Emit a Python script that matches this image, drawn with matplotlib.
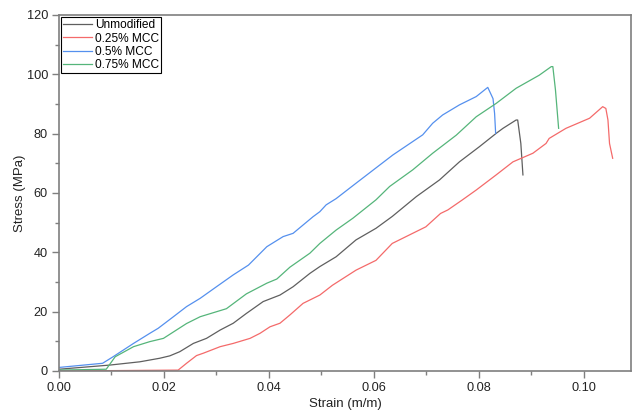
import matplotlib.pyplot as plt
from matplotlib.ticker import MultipleLocator

plt.rcParams['font.family'] = ['Liberation Sans', 'DejaVu Sans']

# Unmodified
strain_unmod = [0.0, 0.0097, 0.0154, 0.0192, 0.0211, 0.0230, 0.0256, 0.0281, 0.0307, 0.0332,
                0.0357, 0.0389, 0.0421, 0.0446, 0.0478, 0.0497, 0.0528, 0.0566, 0.0604, 0.0635,
                0.0670, 0.0681, 0.0725, 0.0763, 0.0801, 0.0833, 0.0846, 0.0871, 0.0874, 0.0880, 0.0884]
stress_unmod = [0.6, 2.0, 3.1, 4.3, 5.1, 6.5, 9.3, 11.0, 13.8, 16.1,
                19.4, 23.4, 25.6, 28.4, 32.9, 35.2, 38.5, 44.2, 48.1, 52.1,
                57.2, 58.8, 64.4, 70.5, 75.6, 80.1, 81.8, 84.6, 84.6, 76.7, 66.1]

# 0.25% MCC
strain_025 = [0.0, 0.0227, 0.0243, 0.0262, 0.0275, 0.0307, 0.0332, 0.0364, 0.0383, 0.0402, 0.0421,
              0.0440, 0.0465, 0.0497, 0.0521, 0.0566, 0.0604, 0.0635, 0.0699, 0.0727, 0.0741,
              0.0768, 0.0795, 0.0833, 0.0865, 0.0903, 0.0928, 0.0934, 0.0966, 0.1011, 0.1036,
              0.1042, 0.1046, 0.1049, 0.1055]
stress_025 = [0.0, 0.3, 2.6, 5.2, 6.0, 8.2, 9.3, 11.0, 12.7, 14.9, 16.1,
              18.9, 22.8, 25.6, 28.9, 34.0, 37.3, 43.0, 48.6, 53.1, 54.3,
              57.6, 61.0, 66.1, 70.5, 73.4, 76.7, 78.4, 81.8, 85.2, 89.1,
              88.5, 84.6, 76.7, 71.7]

# 0.5% MCC
strain_05 = [0.0, 0.0083, 0.0103, 0.0142, 0.0173, 0.0189, 0.0218, 0.0243, 0.0269, 0.0300,
             0.0332, 0.0361, 0.0396, 0.0427, 0.0446, 0.0484, 0.0497, 0.0509, 0.0528, 0.0566,
             0.0636, 0.0693, 0.0712, 0.0731, 0.0763, 0.0795, 0.0817, 0.0827, 0.0830, 0.0832]
stress_05 = [1.2, 2.6, 4.8, 9.3, 12.7, 14.4, 18.3, 21.7, 24.5, 28.4,
             32.4, 35.7, 41.9, 45.3, 46.4, 52.0, 53.7, 56.0, 58.1, 63.3,
             72.8, 79.6, 83.5, 86.3, 89.7, 92.5, 95.6, 91.8, 86.8, 80.1]

# 0.75% MCC
strain_075 = [0.0, 0.0090, 0.0107, 0.0142, 0.0173, 0.0199, 0.0243, 0.0269, 0.0319, 0.0357,
              0.0396, 0.0415, 0.0440, 0.0478, 0.0497, 0.0528, 0.0560, 0.0604, 0.0630, 0.0674,
              0.0712, 0.0757, 0.0795, 0.0833, 0.0871, 0.0915, 0.0938, 0.0941, 0.0946, 0.0952]
stress_075 = [0.3, 0.6, 4.8, 8.2, 9.9, 11.0, 16.0, 18.3, 21.0, 26.0,
              29.6, 31.0, 35.0, 39.7, 43.0, 47.5, 51.5, 57.7, 62.2, 67.8,
              73.4, 79.5, 85.7, 90.2, 95.3, 99.7, 102.6, 102.6, 94.7, 81.8]

series = [
    ("Unmodified", strain_unmod, stress_unmod, "#5f5f5f"),
    ("0.25% MCC", strain_025, stress_025, "#f46a6a"),
    ("0.5% MCC", strain_05, stress_05, "#5590ee"),
    ("0.75% MCC", strain_075, stress_075, "#55b57a"),
]

fig = plt.figure(figsize=(6.36, 4.13), dpi=100)
ax = fig.add_axes([0.0928, 0.1017, 0.8994, 0.862])

for label, x, y, c in series:
    ax.plot(x, y, color=c, lw=0.9, label=label)

ax.set_xlim(0, 0.109)
ax.set_ylim(0, 120)
ax.xaxis.set_major_locator(MultipleLocator(0.02))
ax.xaxis.set_minor_locator(MultipleLocator(0.01))
ax.yaxis.set_major_locator(MultipleLocator(20))
ax.yaxis.set_minor_locator(MultipleLocator(10))
ax.xaxis.set_major_formatter(plt.FuncFormatter(lambda v, p: f"{v:.2f}"))

for s in ax.spines.values():
    s.set_color("#7f7f7f")
    s.set_linewidth(1.2)
ax.tick_params(which="both", direction="out", colors="#7f7f7f", labelcolor="#222222",
               labelsize=9.2, top=False, right=False)
ax.tick_params(which="major", length=5, width=1, pad=3)
ax.tick_params(which="minor", length=3, width=1)

ax.set_xlabel("Strain (m/m)", fontsize=9.5, labelpad=3, color="#222222")
ax.set_ylabel("Stress (MPa)", fontsize=9.5, labelpad=0.5, color="#222222")

leg = ax.legend(loc="upper left", fontsize=8.6, frameon=True, fancybox=False,
                borderpad=0.15, labelspacing=0.12, handlelength=2.4, handletextpad=0.25,
                borderaxespad=0.2, framealpha=1)
leg.get_frame().set_edgecolor("black")
leg.get_frame().set_linewidth(0.8)

fig.savefig("out.png", dpi=100)
